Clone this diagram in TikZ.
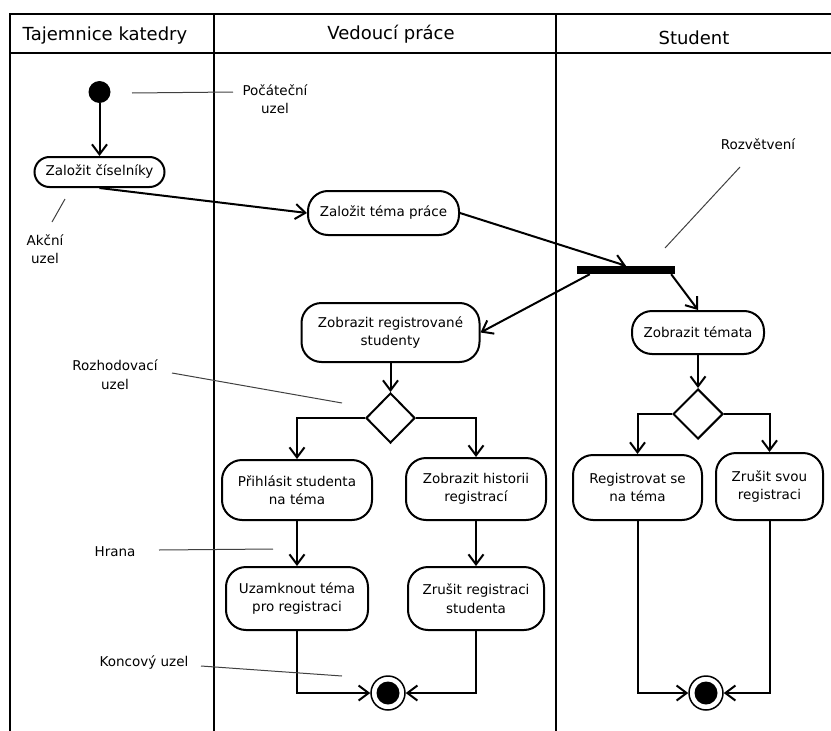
\documentclass[tikz,border=0pt]{standalone}
\usepackage{fontspec}
\setmainfont{DejaVu Sans}
\usetikzlibrary{arrows.meta,shapes.geometric,calc}
\begin{document}
\begin{tikzpicture}[x=1pt,y=-1pt,
  frame/.style={line width=2.2pt},
  flow/.style={line width=2pt, line join=miter,
    -{Straight Barb[length=10pt,width=15pt]}},
  action/.style={draw, line width=2pt, align=center, inner sep=0pt,
    font=\fontsize{13.5}{18.5}\selectfont},
  decision/.style={draw, diamond, aspect=1, line width=2pt, inner sep=0pt},
  label/.style={inner sep=0pt, align=center, font=\fontsize{13.5}{18.5}\selectfont},
  header/.style={inner sep=0pt, anchor=base, font=\fontsize{18}{22}\selectfont},
  note/.style={line width=1pt, draw=black!75}
]
\useasboundingbox (0,0) rectangle (831,731);

% swimlane frame
\draw[frame] (831,14) -- (10,14) -- (10,731);
\draw[frame] (10,53) -- (831,53);
\draw[frame] (214,14) -- (214,731);
\draw[frame] (556,14) -- (556,731);

% lane headers
\node[header] (hTaj) at (105,40) {Tajemnice katedry};
\node[header] (hVed) at (391,39) {Vedoucí práce};
\node[header] (hStu) at (694,44.5) {Student};

% initial node
\node[circle, fill=black, minimum size=22pt, inner sep=0pt] (init) at (99.5,92) {};

% action nodes
\node[action, minimum width=130pt, minimum height=30pt, rounded corners=15pt]
  (cis) at (99.5,172) {Založit číselníky};
\node[action, minimum width=151pt, minimum height=44pt, rounded corners=20pt]
  (tema) at (383.5,213) {Založit téma práce};
\node[action, minimum width=178pt, minimum height=59pt, rounded corners=20pt]
  (zreg) at (390.5,332.5) {Zobrazit registrované\\studenty};
\node[action, minimum width=150pt, minimum height=60pt, rounded corners=20pt]
  (prihl) at (297,490) {Přihlásit studenta\\na téma};
\node[action, minimum width=140pt, minimum height=62pt, rounded corners=20pt]
  (hist) at (476,489) {Zobrazit historii\\registrací};
\node[action, minimum width=142pt, minimum height=63pt, rounded corners=20pt]
  (uzam) at (297,598.5) {Uzamknout téma\\pro registraci};
\node[action, minimum width=136pt, minimum height=63pt, rounded corners=20pt]
  (zrus) at (476,598.5) {Zrušit registraci\\studenta};
\node[action, minimum width=132pt, minimum height=43pt, rounded corners=20pt]
  (temata) at (698,332.5) {Zobrazit témata};
\node[action, minimum width=129pt, minimum height=65pt, rounded corners=20pt]
  (regse) at (637.5,487.5) {Registrovat se\\na téma};
\node[action, minimum width=107pt, minimum height=67pt, rounded corners=20pt]
  (zsvou) at (769.5,486.5) {Zrušit svou\\registraci};

% decision nodes
\node[decision, minimum width=49pt, minimum height=50pt] (d1) at (390.5,418) {};
\node[decision, minimum width=50pt, minimum height=50pt] (d2) at (698,414) {};

% fork bar
\node[fill=black, minimum width=98pt, minimum height=8pt, inner sep=0pt] (fork) at (626,270) {};

% final nodes
\node[circle, draw, line width=1.5pt, minimum size=34pt, inner sep=0pt] (end1) at (388,693) {};
\fill (end1.center) circle (11.5pt);
\node[circle, draw, line width=1.5pt, minimum size=34pt, inner sep=0pt] (end2) at (706,693) {};
\fill (end2.center) circle (11.5pt);

% control flow
\draw[flow] (init.south) -- (cis.north);
\draw[flow] (cis.south) -- (tema.west);
\draw[flow] (tema.east) -- (fork.north);
\draw[flow] ([xshift=13pt]fork.south west) -- (zreg.east);
\draw[flow] ([xshift=-4pt]fork.south east) -- (temata.north);
\draw[flow] (zreg.south) -- (d1.north);
\draw[flow] (d1.west) -| (prihl.north);
\draw[flow] (d1.east) -| (hist.north);
\draw[flow] (prihl.south) -- (uzam.north);
\draw[flow] (hist.south) -- (zrus.north);
\draw[flow] (uzam.south) |- (end1.west);
\draw[flow] (zrus.south) |- (end1.east);
\draw[flow] (temata.south) -- (d2.north);
\draw[flow] (d2.west) -| (regse.north);
\draw[flow] (d2.east) -| (zsvou.north);
\draw[flow] (regse.south) |- (end2.west);
\draw[flow] (zsvou.south) |- (end2.east);

% explanatory labels
\node[label] (lPoc) at (275,99) {Počáteční\\uzel};
\node[label] (lAkc) at (45,249) {Akční\\uzel};
\node[label] (lRoz) at (758,144) {Rozvětvení};
\node[label] (lRoh) at (115,374.5) {Rozhodovací\\uzel};
\node[label] (lHra) at (115,552) {Hrana};
\node[label] (lKon) at (144,662) {Koncový uzel};

\coordinate (pocA) at (132,93);   \coordinate (pocB) at (233,92);
\coordinate (akcA) at (65,199);   \coordinate (akcB) at (52,222);
\coordinate (rozA) at (740,167);  \coordinate (rozB) at (665,248);
\coordinate (rohA) at (172,373);  \coordinate (rohB) at (342,403);
\coordinate (hraA) at (159,550);  \coordinate (hraB) at (273,549);
\coordinate (konA) at (201,666);  \coordinate (konB) at (342,676);

\draw[note] (pocA) -- (pocB);
\draw[note] (akcA) -- (akcB);
\draw[note] (rozA) -- (rozB);
\draw[note] (rohA) -- (rohB);
\draw[note] (hraA) -- (hraB);
\draw[note] (konA) -- (konB);
\end{tikzpicture}
\end{document}
